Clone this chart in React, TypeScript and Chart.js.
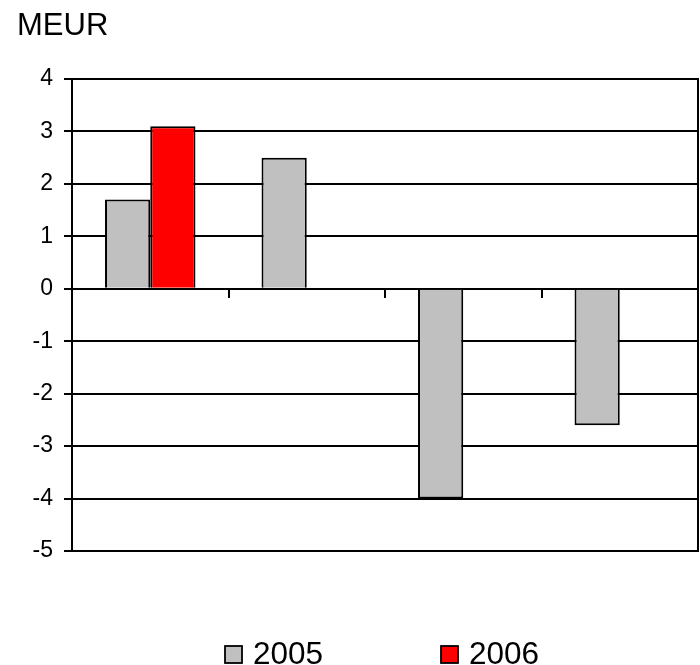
import React, { useEffect, useRef } from "react";
import { Chart, registerables } from "chart.js";

Chart.register(...registerables);

const categories = ["", "", "", ""];
const series2005 = [1.7, 2.5, -4.0, -2.6];
const series2006 = [3.1, null, null, null];
const seriesLabels = ["2005", "2006"];
const seriesColors = ["#C0C0C0", "#FF0000"];
const unitLabel = "MEUR";
const yMin = -5;
const yMax = 4;

const FONT = "'Liberation Sans', Arial, sans-serif";

const decorPlugin = {
  id: "decor",
  afterDraw(chart: any) {
    const { ctx, chartArea } = chart;
    ctx.save();
    // right border of plot area
    ctx.strokeStyle = "#000";
    ctx.lineWidth = 2;
    ctx.beginPath();
    ctx.moveTo(chartArea.right, chartArea.top - 1);
    ctx.lineTo(chartArea.right, chartArea.bottom + 1);
    ctx.stroke();
    // unit title
    ctx.fillStyle = "#000";
    ctx.font = `31px ${FONT}`;
    ctx.textBaseline = "alphabetic";
    ctx.textAlign = "left";
    ctx.fillText(unitLabel, 17, 35);
    // legend
    const items = chart.data.datasets;
    const starts = [224, 440];
    ctx.font = `31.5px ${FONT}`;
    items.forEach((ds: any, i: number) => {
      const x = starts[i];
      ctx.fillStyle = ds.backgroundColor;
      ctx.fillRect(x + 1, 646, 17, 17);
      ctx.strokeStyle = "#000";
      ctx.lineWidth = 1.8;
      ctx.strokeRect(x + 1, 646, 17, 17);
      ctx.fillStyle = "#000";
      ctx.fillText(ds.label, x + 29, 664);
    });
    ctx.restore();
  },
};

export default function App() {
  const ref = useRef<HTMLCanvasElement>(null);
  useEffect(() => {
    document.body.style.margin = "0";
    const chart = new Chart(ref.current!, {
      type: "bar",
      data: {
        labels: categories,
        datasets: [
          {
            label: seriesLabels[0],
            data: series2005,
            backgroundColor: seriesColors[0],
            borderColor: "#000",
            borderWidth: 2,
          },
          {
            label: seriesLabels[1],
            data: series2006 as any,
            backgroundColor: seriesColors[1],
            borderColor: "#000",
            borderWidth: 2,
          },
        ],
      },
      options: {
        responsive: false,
        animation: false,
        layout: { padding: { top: 79, bottom: 114, right: 2, left: 0 } },
        plugins: {
          legend: { display: false },
          tooltip: { enabled: false },
        },
        datasets: {
          bar: { categoryPercentage: 0.578, barPercentage: 1 },
        },
        scales: {
          x: {
            type: "category",
            position: { y: 0 } as any,
            offset: true,
            ticks: { display: false },
            grid: {
              offset: true,
              drawOnChartArea: false,
              drawTicks: true,
              tickLength: 8,
              color: "#000",
              lineWidth: 2,
            },
            border: { display: true, color: "#000", width: 2 },
          },
          y: {
            min: yMin,
            max: yMax,
            ticks: {
              stepSize: 1,
              color: "#000",
              padding: 11,
              font: { family: FONT, size: 23 },
            },
            grid: {
              color: "#000",
              lineWidth: 2,
              tickLength: 8,
            },
            border: { display: true, color: "#000", width: 2 },
            afterFit(scale: any) {
              scale.width = 72;
            },
          },
        },
      },
      plugins: [decorPlugin],
    });
    return () => chart.destroy();
  }, []);
  return (
    <div style={{ position: "absolute", left: 0, top: 0, width: 700, height: 665 }}>
      <canvas ref={ref} width={700} height={665} />
    </div>
  );
}
